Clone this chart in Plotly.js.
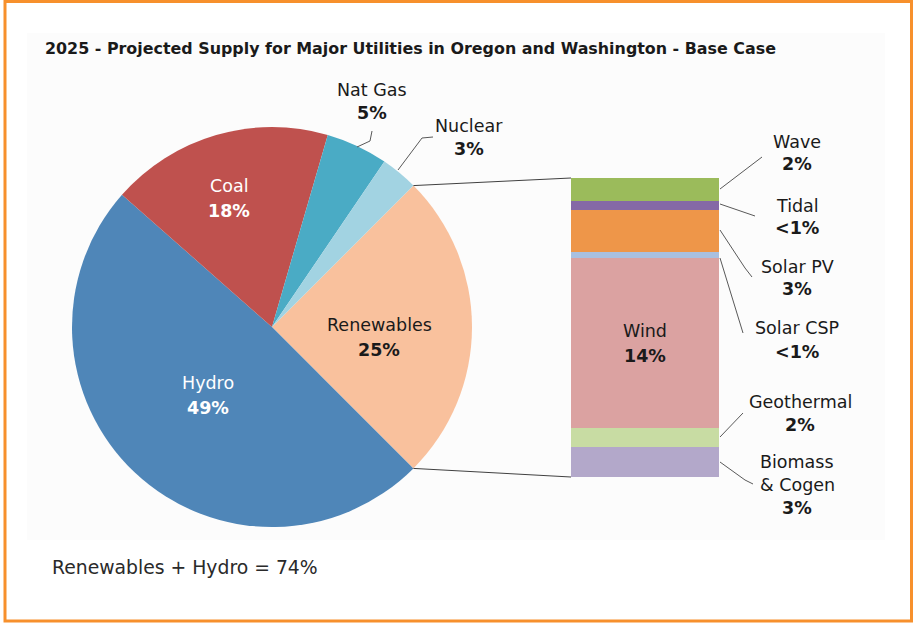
<!DOCTYPE html>
<html><head><meta charset="utf-8">
<script src="https://cdn.plot.ly/plotly-3.0.1.min.js"></script>
<style>html,body{margin:0;padding:0;background:#fff}#chart{width:914px;height:623px}</style>
</head><body><div id="chart"></div>
<script>
// ---- data ----
const pieLabels = ["Renewables", "Hydro", "Coal", "Nat Gas", "Nuclear"];
const pieValues = [25, 49, 18, 5, 3];
const pieColors = ["#f9c19d", "#4f86b8", "#bf514e", "#4aabc5", "#a2d3e2"];

const renLabels = ["Biomass & Cogen", "Geothermal", "Wind", "Solar CSP", "Solar PV", "Tidal", "Wave"];
const renValues = [2.5, 1.6, 14.2, 0.5, 3.5, 0.8, 1.9];
const renText   = ["3%", "2%", "14%", "<1%", "3%", "<1%", "2%"];
const renColors = ["#b3a8ca", "#c8dca3", "#dba2a1", "#a9c0e0", "#ee9649", "#8569a6", "#9bbb5b"];

const titleText = "2025 - Projected Supply for Major Utilities in Oregon and Washington - Base Case";
const footText = "Renewables + Hydro = 74%";

// ---- geometry helpers (pixel -> paper) ----
const W = 914, H = 623;
const px = x => x / W, py = y => 1 - y / H;
const pie = {cx: 272, cy: 327, r: 200, rot: 45};
const bar = {x0: 571, x1: 719, y0: 178, y1: 477};

const total = pieValues.reduce((a, b) => a + b, 0);
function piePoint(frac) { // clockwise from rotation
  const th = (pie.rot + 360 * frac) * Math.PI / 180;
  return [pie.cx + pie.r * Math.sin(th), pie.cy - pie.r * Math.cos(th)];
}
const renStart = piePoint(0), renEnd = piePoint(pieValues[0] / total);

const traces = [
  {type: "pie", labels: pieLabels, values: pieValues, sort: false, direction: "clockwise",
   rotation: pie.rot, marker: {colors: pieColors, line: {width: 0}}, textinfo: "none",
   hoverinfo: "none", showlegend: false,
   domain: {x: [px(pie.cx - pie.r), px(pie.cx + pie.r)], y: [py(pie.cy + pie.r), py(pie.cy - pie.r)]}}
];
renLabels.forEach((l, i) => traces.push({
  type: "bar", x: ["Renewables"], y: [renValues[i]], name: l, width: 1,
  marker: {color: renColors[i], line: {width: 0}}, xaxis: "x", yaxis: "y",
  hoverinfo: "none", showlegend: false
}));

const lineC = "#595959";
const shapes = [
  {type: "rect", xref: "paper", yref: "paper", x0: px(27), x1: px(885), y0: py(540), y1: py(33),
   fillcolor: "#fcfcfc", line: {width: 0}, layer: "below"},
  {type: "rect", xref: "paper", yref: "paper", x0: px(5), x1: px(911.5), y0: py(621), y1: py(1.5),
   line: {color: "#f7902c", width: 3}, fillcolor: "rgba(0,0,0,0)"},
];
function seg(pts, color, w) {
  for (let i = 0; i < pts.length - 1; i++) {
    shapes.push({type: "line", xref: "paper", yref: "paper",
      x0: px(pts[i][0]), y0: py(pts[i][1]), x1: px(pts[i + 1][0]), y1: py(pts[i + 1][1]),
      line: {color: color || lineC, width: w || 1}});
  }
}
// connectors from pie slice to bar
seg([renStart, [bar.x0, bar.y0]], "#404040", 1);
seg([renEnd, [bar.x0, bar.y1]], "#404040", 1);
// leader lines
seg([[357, 147], [370, 141], [372, 131]]);
seg([[398, 170], [422, 138], [433, 137]]);
seg([[720, 189], [762, 157]]);
seg([[720, 204], [755, 216]]);
seg([[720, 230], [745, 268], [752, 277]]);
seg([[720, 258], [743, 333]]);
seg([[720, 437], [743, 413]]);
seg([[720, 462], [745, 480], [753, 484]]);

const F = "DejaVu Sans, Verdana, sans-serif";
const FS = 17.5;
const ann = [];
function lab(x, y, t, opts) {
  opts = opts || {};
  ann.push({xref: "paper", yref: "paper", x: px(x), y: py(y), text: t, showarrow: false,
    xanchor: opts.xa || "center", yanchor: "middle",
    font: {family: F, size: opts.size || FS, color: opts.color || "#1a1a1a"}});
}
function pair(x, y1, y2, name, pct, color) {
  lab(x, y1, name, {color});
  lab(x, y2, "<b>" + pct + "</b>", {color});
}
const pct = v => Math.round(v) + "%";
// pie labels
pair(229, 186, 211, pieLabels[2], pct(pieValues[2]), "#ffffff");
pair(208, 383, 408, pieLabels[1], pct(pieValues[1]), "#ffffff");
pair(379, 325, 350, pieLabels[0], pct(pieValues[0]), "#1a1a1a");
pair(372, 90, 113, pieLabels[3], pct(pieValues[3]));
pair(469, 126, 149, pieLabels[4], pct(pieValues[4]));
// wind label inside bar (data coords)
const windBase = renValues.slice(0, 2).reduce((a, b) => a + b, 0);
const windMid = windBase + renValues[2] * 0.5;
ann.push({xref: "x", yref: "y", x: 0, y: windMid, text: renLabels[2], yanchor: "middle",
  showarrow: false, font: {family: F, size: FS, color: "#1a1a1a"}, yshift: 12});
ann.push({xref: "x", yref: "y", x: 0, y: windMid, text: "<b>" + renText[2] + "</b>", yanchor: "middle",
  showarrow: false, font: {family: F, size: FS, color: "#1a1a1a"}, yshift: -13});
// side labels
pair(797, 142, 164, renLabels[6], renText[6]);
pair(797, 206, 228, renLabels[5], renText[5]);
pair(797, 267, 289, renLabels[4], renText[4]);
pair(797, 328, 352, renLabels[3], renText[3]);
pair(800, 402, 425, renLabels[1], renText[1]);
lab(797, 462, "Biomass");
lab(797, 485, "& Cogen");
lab(797, 508, "<b>" + renText[0] + "</b>");
// title + footer
lab(43, 49, "<b>" + titleText + "</b>", {xa: "left", size: 15.9});
lab(50, 567, footText, {xa: "left", size: 18.8, color: "#2a2a2a"});

const layout = {
  width: W, height: H, margin: {l: 0, r: 0, t: 0, b: 0},
  paper_bgcolor: "#ffffff", plot_bgcolor: "rgba(0,0,0,0)",
  barmode: "stack", bargap: 0,
  xaxis: {domain: [px(bar.x0), px(bar.x1)], range: [-0.5, 0.5], visible: false, fixedrange: true},
  yaxis: {domain: [py(bar.y1), py(bar.y0)], range: [0, 25], visible: false, fixedrange: true},
  shapes: shapes, annotations: ann, showlegend: false
};
Plotly.newPlot("chart", traces, layout, {staticPlot: true});
</script></body></html>
